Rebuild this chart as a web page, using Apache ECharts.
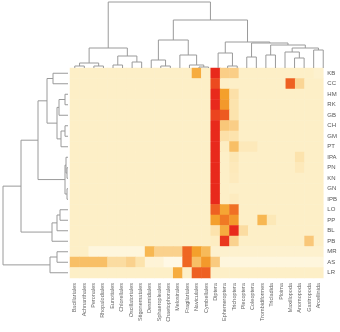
<!DOCTYPE html>
<html>
<head>
<meta charset="utf-8">
<script src="https://cdn.jsdelivr.net/npm/echarts@6/dist/echarts.min.js"></script>
<style>
  html, body { margin: 0; padding: 0; background: #fff; }
  #chart { width: 340px; height: 332px; }
</style>
</head>
<body>
<div id="chart"></div>
<script>
// Column taxa (left to right, dendrogram order)
const taxa = ['Bacillariales', 'Achnanthales', 'Peronales', 'Rhopalodiales', 'Eunotiales',
  'Chlorellales', 'Oscillatoriales', 'Stigonematales', 'Desmidiales', 'Sphaeropleales',
  'Chaetophorales', 'Melosirales', 'Fragilariales', 'Naviculales', 'Cymbellales',
  'Diptera', 'Ephemeroptera', 'Trichoptera', 'Plecoptera', 'Coleoptera',
  'Trombidiformes', 'Tricladida', 'Ploima', 'Maxillopoda', 'Anomopoda', 'Gastropoda', 'Arcellinida']

// Row sites (top to bottom)
const sites = ['KB', 'CC', 'HM', 'RK', 'GB', 'CH', 'GM', 'PT', 'IPA', 'PN',
  'KN', 'GN', 'IPB', 'LO', 'PP', 'BL', 'PB', 'MR', 'AS', 'LR']

// Relative abundance per site (one row per site, one value per taxon)
const abundance = [
  [.1,.1,.1,.1,.1,.1,.1,.1,.1,.1,.1,.1,.1,.55,.1,1,.35,.35,.1,.1,.1,.1,.1,.1,.1,.1,.08],
  [.1,.1,.1,.1,.1,.1,.1,.1,.1,.1,.1,.1,.1,.1,.1,.88,.1,.1,.1,.1,.1,.1,.1,.8,.3,.1,.1],
  [.1,.1,.1,.1,.1,.1,.1,.1,.1,.1,.1,.1,.1,.1,.1,1,.6,.22,.1,.1,.1,.1,.1,.1,.1,.1,.1],
  [.1,.1,.1,.1,.1,.1,.1,.1,.1,.1,.1,.1,.1,.1,.1,1,.62,.2,.1,.1,.1,.1,.1,.1,.1,.1,.1],
  [.1,.1,.1,.1,.1,.1,.1,.1,.1,.1,.1,.1,.1,.1,.1,.9,.82,.2,.1,.1,.1,.1,.1,.1,.1,.1,.1],
  [.1,.1,.1,.1,.1,.1,.1,.1,.1,.1,.1,.1,.1,.1,.1,1,.4,.35,.1,.1,.1,.1,.1,.1,.1,.1,.1],
  [.1,.1,.1,.1,.1,.1,.1,.1,.1,.1,.1,.1,.1,.1,.1,1,.22,.2,.1,.1,.1,.1,.1,.1,.1,.1,.1],
  [.1,.1,.1,.1,.1,.1,.1,.1,.1,.1,.1,.1,.1,.1,.1,1,.12,.45,.15,.15,.1,.1,.1,.1,.1,.1,.1],
  [.1,.1,.1,.1,.1,.1,.1,.1,.1,.1,.1,.1,.1,.1,.1,1,.1,.17,.1,.1,.1,.1,.1,.1,.2,.1,.1],
  [.1,.1,.1,.1,.1,.1,.1,.1,.1,.1,.1,.1,.1,.1,.1,1,.1,.15,.1,.1,.1,.1,.1,.1,.15,.1,.1],
  [.1,.1,.1,.1,.1,.1,.1,.1,.1,.1,.1,.1,.1,.1,.1,1,.1,.14,.1,.1,.1,.1,.1,.1,.1,.1,.1],
  [.1,.1,.1,.1,.1,.1,.1,.1,.1,.1,.1,.1,.1,.1,.1,1,.1,.1,.1,.1,.1,.1,.1,.1,.1,.1,.1],
  [.1,.1,.1,.1,.1,.1,.1,.1,.1,.1,.1,.1,.1,.1,.1,1,.1,.13,.1,.1,.1,.1,.1,.1,.1,.1,.1],
  [.1,.1,.1,.1,.1,.1,.1,.1,.1,.1,.1,.1,.1,.1,.1,.8,.58,.75,.1,.1,.1,.1,.1,.1,.1,.1,.1],
  [.1,.1,.1,.1,.1,.1,.1,.1,.1,.1,.1,.1,.1,.1,.1,.6,.72,.62,.1,.1,.5,.16,.1,.1,.1,.1,.1],
  [.1,.1,.1,.1,.1,.1,.1,.1,.1,.1,.1,.1,.1,.1,.1,.2,.55,1,.25,.1,.1,.1,.1,.1,.1,.1,.1],
  [.1,.1,.1,.1,.1,.1,.1,.1,.1,.1,.1,.1,.1,.1,.1,.12,.95,.32,.1,.1,.1,.1,.1,.1,.1,.4,.1],
  [.1,.1,.04,.04,.04,.04,.04,.04,.5,.33,.33,.33,.78,.6,.48,.08,.08,.08,.08,.08,.08,.08,.08,.08,.08,.08,.08],
  [.45,.45,.45,.45,.25,.25,.33,.2,.06,.06,.02,.02,.78,.45,.62,.38,.04,.04,.04,.04,.04,.04,.04,.04,.04,.04,.04],
  [.1,.1,.1,.1,.1,.1,.1,.1,.1,.1,.1,.55,.1,.8,.8,.1,.1,.1,.1,.1,.1,.1,.1,.1,.1,.1,.1]
]

// Column clustering: [left, right, height]; numbers are leaves, 'mK' is merge K
const taxaMerges = [
  [0, 1, 2], [2, 3, 2], ['m0', 'm1', 5], [4, 5, 3], [6, 7, 6], ['m3', 'm4', 12],
  ['m2', 'm5', 20], [9, 10, 2], [8, 'm7', 8], [13, 14, 1], [12, 'm9', 3],
  [11, 'm10', 13], ['m8', 'm11', 28], [16, 17, 2], [15, 'm13', 15], [18, 19, 11],
  [20, 21, 13], [23, 24, 10], [22, 'm17', 16], [25, 26, 18], ['m18', 'm19', 20],
  ['m16', 'm20', 23], ['m15', 'm21', 25], ['m14', 'm22', 26], ['m12', 'm23', 48],
  ['m6', 'm24', 66]
]

// Row clustering
const siteMerges = [
  [0, 1, 15], [2, 3, 3], ['m1', 4, 9], [5, 6, 3], ['m3', 7, 7], ['m2', 'm4', 11],
  ['m0', 'm5', 21], [9, 10, 1], [8, 'm7', 2], [11, 12, 1], ['m8', 'm9', 3],
  ['m6', 'm10', 30], [13, 14, 8], ['m12', 15, 11], ['m13', 16, 16],
  ['m11', 'm14', 47], [17, 18, 11], ['m16', 19, 18], ['m15', 'm17', 65]
]

// turn a merge list into elbow polylines [pos, height]
function dendroLines(nLeaves, merges, flip) {
  const pos = [], hgt = []
  for (let i = 0; i < nLeaves; i++) { pos[i] = i; hgt[i] = 0 }
  const ref = r => typeof r === 'number' ? r : nLeaves + Number(r.slice(1))
  const out = []
  merges.forEach(([a, b, h], k) => {
    const ia = ref(a), ib = ref(b)
    let pts = [[pos[ia], hgt[ia]], [pos[ia], h], [pos[ib], h], [pos[ib], hgt[ib]]]
    if (flip) pts = pts.map(p => [p[1], p[0]])
    out.push({ coords: pts })
    pos[nLeaves + k] = (pos[ia] + pos[ib]) / 2
    hgt[nLeaves + k] = h
  })
  return out
}

const cells = []
abundance.forEach((row, r) => row.forEach((v, c) => cells.push([c, r, v])))

const font = 'Liberation Sans, Arial, sans-serif'
const chart = echarts.init(document.getElementById('chart'))
chart.setOption({
  animation: false,
  grid: [
    { left: 70, top: 68, width: 258, height: 210 },
    { left: 70, top: 1, width: 258, height: 67 },
    { left: 0, top: 68, width: 68, height: 210 }
  ],
  xAxis: [
    {
      type: 'category', data: taxa, gridIndex: 0, position: 'bottom',
      axisLine: { show: false }, axisTick: { show: false },
      axisLabel: { rotate: 90, interval: 0, fontSize: 5.5, color: '#666', margin: 5, fontFamily: font }
    },
    { type: 'value', gridIndex: 1, min: -0.5, max: 26.5, show: false },
    { type: 'value', gridIndex: 2, min: 0, max: 68, inverse: true, show: false }
  ],
  yAxis: [
    {
      type: 'category', data: sites, gridIndex: 0, inverse: true, position: 'right',
      axisLine: { show: false }, axisTick: { show: false },
      axisLabel: { interval: 0, fontSize: 6, color: '#555', margin: 4, fontFamily: font }
    },
    { type: 'value', gridIndex: 1, min: 0, max: 67, show: false },
    { type: 'value', gridIndex: 2, min: -0.5, max: 19.5, inverse: true, show: false }
  ],
  visualMap: {
    show: false, min: 0, max: 1, seriesIndex: 0,
    inRange: {
      color: ['#fffaec', '#fdefc7', '#fce3ad', '#fad595', '#f9c779', '#f7b752',
        '#f4a02c', '#f17f25', '#ee6022', '#eb441f', '#e8291c']
    }
  },
  series: [
    { type: 'heatmap', xAxisIndex: 0, yAxisIndex: 0, data: cells, silent: true },
    {
      type: 'lines', coordinateSystem: 'cartesian2d', xAxisIndex: 1, yAxisIndex: 1,
      polyline: true, silent: true, data: dendroLines(taxa.length, taxaMerges, false),
      lineStyle: { color: '#9a9a9a', width: 1, opacity: 1 }
    },
    {
      type: 'lines', coordinateSystem: 'cartesian2d', xAxisIndex: 2, yAxisIndex: 2,
      polyline: true, silent: true, data: dendroLines(sites.length, siteMerges, true),
      lineStyle: { color: '#9a9a9a', width: 1, opacity: 1 }
    }
  ]
})
</script>
</body>
</html>
